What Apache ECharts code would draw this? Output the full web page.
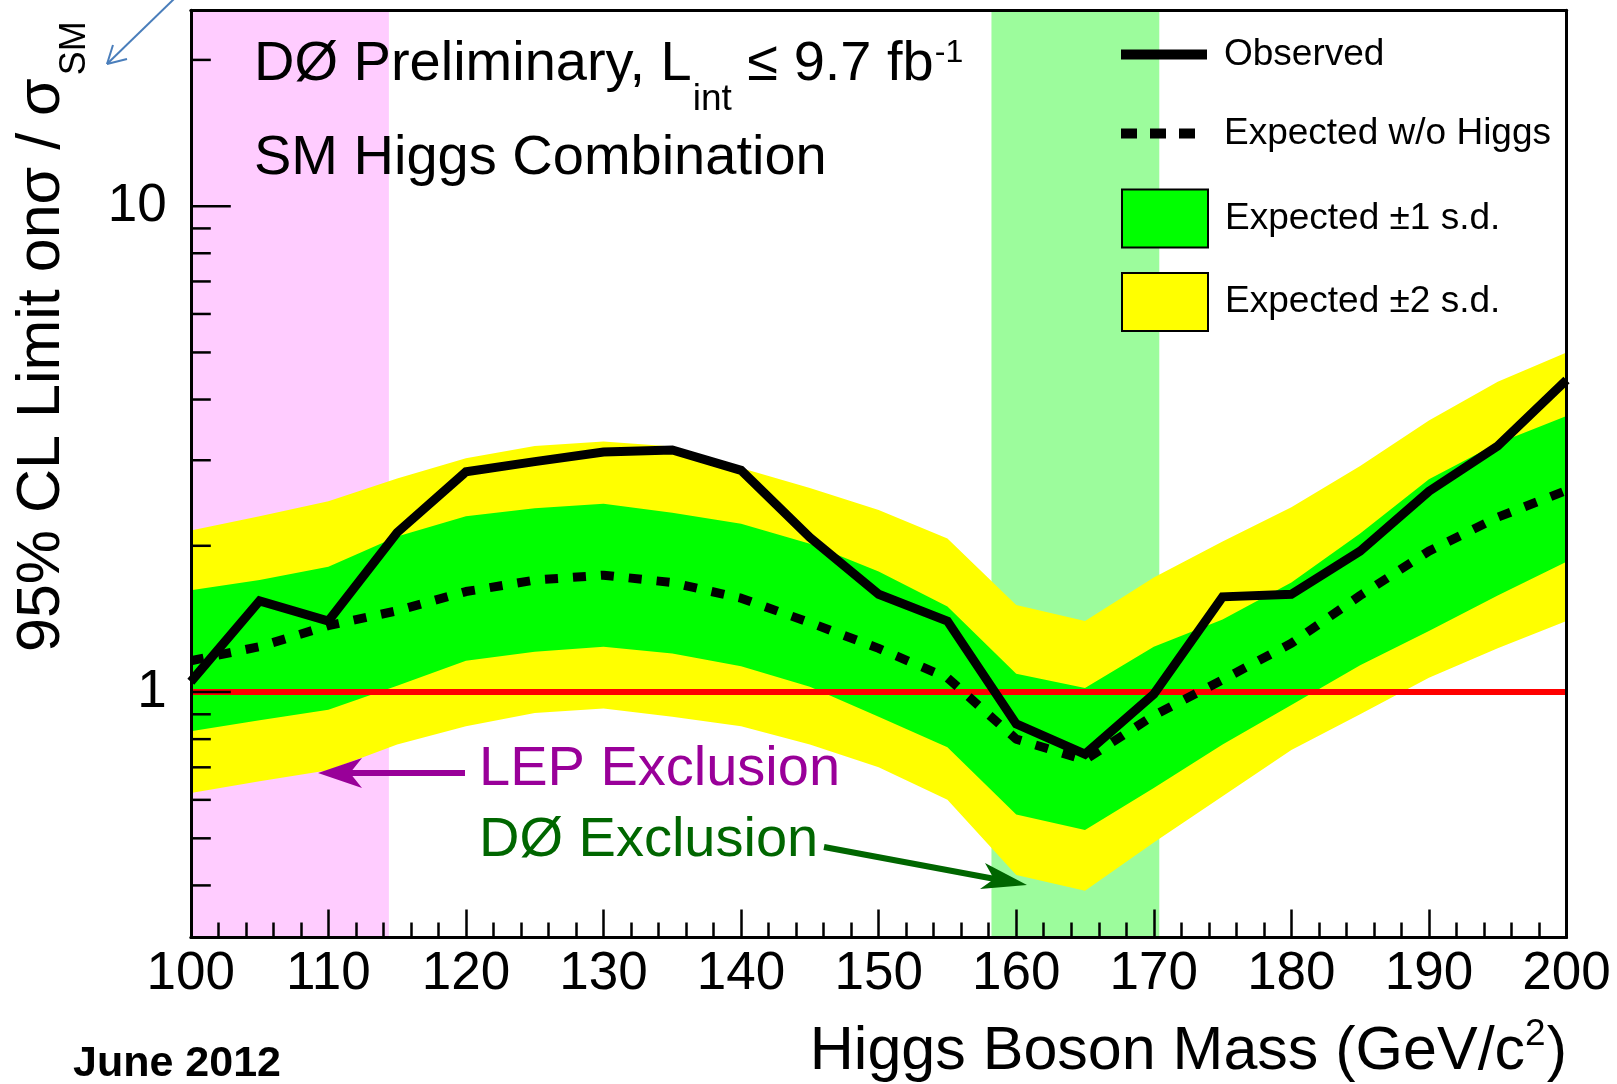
<!DOCTYPE html>
<html><head><meta charset="utf-8">
<script src="https://cdn.jsdelivr.net/npm/echarts@6/dist/echarts.min.js"></script>
<style>html,body{margin:0;padding:0;background:#fff}#c{width:1617px;height:1084px}</style>
</head><body><div id="c"></div>
<script>
// ---------- data ----------
const masses   = [100,105,110,115,120,125,130,135,140,145,150,155,160,165,170,175,180,185,190,195,200];
const observed = [1.05,1.54,1.40,2.13,2.84,2.98,3.12,3.15,2.86,2.08,1.59,1.40,0.86,0.745,0.99,1.57,1.59,1.95,2.59,3.21,4.39];
const expected = [1.16,1.24,1.37,1.47,1.61,1.70,1.74,1.68,1.56,1.39,1.23,1.07,0.80,0.725,0.895,1.06,1.26,1.58,1.95,2.29,2.60];
const plus1    = [1.62,1.70,1.81,2.09,2.30,2.39,2.44,2.34,2.22,2.02,1.77,1.50,1.09,1.02,1.24,1.41,1.68,2.12,2.74,3.25,3.70];
const minus1   = [0.83,0.875,0.92,1.03,1.16,1.21,1.24,1.20,1.13,1.025,0.89,0.77,0.56,0.52,0.635,0.78,0.94,1.135,1.335,1.58,1.855];
const plus2    = [2.15,2.30,2.47,2.75,3.03,3.21,3.28,3.20,2.89,2.63,2.37,2.07,1.51,1.40,1.72,2.04,2.40,2.92,3.62,4.35,5.00];
const minus2   = [0.62,0.655,0.69,0.78,0.85,0.905,0.925,0.89,0.85,0.78,0.70,0.60,0.42,0.39,0.49,0.61,0.76,0.90,1.07,1.23,1.40];
const smLineX  = [100, 200];
const smLineY  = [1, 1];
const lepExclusion = [100, 114.4];
const d0Exclusion  = [158.2, 170.4];
const xRange = [100, 200];
const yRange = [0.3125, 25.3];
const yMajorTicks = [1, 10];
const yMinorTicks = [0.4,0.5,0.6,0.7,0.8,0.9,2,3,4,5,6,7,8,9,20];
const yTickLabels = {1:'1', 10:'10'};
const legendNames = ['Observed', 'Expected w/o Higgs', 'Expected ±1 s.d.', 'Expected ±2 s.d.'];

// ---------- helpers ----------
const FONT = '"Liberation Sans", Arial, Helvetica, sans-serif';
const mctx = document.createElement('canvas').getContext('2d');
function tw(t, size, weight) { mctx.font = (weight || 'normal') + ' ' + size + 'px ' + FONT; return mctx.measureText(t).width; }
function txt(t, x, y, size, opts) {
  opts = opts || {};
  return { type: 'text', x: x, y: y, z: 100, rotation: opts.rotation || 0, silent: true,
    style: { text: t, fontSize: size, fontFamily: FONT, fontWeight: opts.weight || 'normal',
      fill: opts.fill || '#000', align: opts.align || 'left', verticalAlign: 'middle' } };
}
function seg(x1, y1, x2, y2, color, w) {
  return { type: 'line', z: 100, silent: true, shape: { x1, y1, x2, y2 }, style: { stroke: color, lineWidth: w } };
}
function poly(points, color) {
  return { type: 'polygon', z: 100, silent: true, shape: { points }, style: { fill: color } };
}

function bandSeries(name, lo, hi, color, z) {
  return {
    name, type: 'custom', z, silent: true, clip: true,
    itemStyle: { color },
    data: masses.map((m, i) => [m, lo[i], hi[i]]),
    encode: { x: 0, y: [1, 2] },
    renderItem: function (params, api) {
      if (params.dataIndex !== 0) return null;
      const pts = [];
      for (let i = 0; i < masses.length; i++) pts.push(api.coord([masses[i], hi[i]]));
      for (let i = masses.length - 1; i >= 0; i--) pts.push(api.coord([masses[i], lo[i]]));
      return { type: 'polygon', shape: { points: pts }, style: { fill: color } };
    }
  };
}
function regionSeries(range, color) {
  return {
    type: 'custom', z: 1, silent: true,
    data: [[range[0], range[1], yRange[0], yRange[1]]],
    encode: { x: [0, 1], y: [2, 3] },
    renderItem: function (params, api) {
      const a = api.coord([api.value(0), api.value(3)]);
      const b = api.coord([api.value(1), api.value(2)]);
      return { type: 'rect', shape: { x: a[0], y: a[1], width: b[0] - a[0], height: b[1] - a[1] }, style: { fill: color } };
    }
  };
}
function yTickSeries(vals, len) {
  return {
    type: 'custom', z: 20, silent: true,
    data: vals.map(v => [xRange[0], v]),
    encode: { x: 0, y: 1 },
    renderItem: function (params, api) {
      const p = api.coord([api.value(0), api.value(1)]);
      return { type: 'line', shape: { x1: p[0], y1: p[1], x2: p[0] + len, y2: p[1] }, style: { stroke: '#000', lineWidth: 2.5 } };
    }
  };
}

// ---------- text layout ----------
const g = [];
const L1 = 'DØ Preliminary, L', L1x = 254;
g.push(txt(L1, L1x, 65, 56));
const subX = L1x + tw(L1, 56) + 1;
g.push(txt('int', subX, 100, 37));
const L3 = ' ≤ 9.7 fb', L3x = subX + tw('int', 37);
g.push(txt(L3, L3x, 65, 56));
g.push(txt('-1', L3x + tw(L3, 56) + 1, 53, 32));
g.push(txt('SM Higgs Combination', L1x, 159, 56));
g.push(txt('LEP Exclusion', 479, 770, 56, { fill: '#990099' }));
g.push(txt('DØ Exclusion', 479, 841, 56, { fill: '#006600' }));
g.push(seg(465, 773, 348, 773, '#990099', 6));
g.push(poly([[318, 773], [362, 758], [350, 773], [362, 788]], '#990099'));
g.push(seg(824, 847, 995, 879, '#006600', 6));
g.push(poly([[1027, 885], [985, 863], [994, 879], [980, 889]], '#006600'));
const XT = 'Higgs Boson Mass (GeV/c', XS = 61;
const closeX = 1567 - tw(')', XS);
const supX = closeX - tw('2', 37) - 1;
g.push(txt(')', closeX, 1052, XS));
g.push(txt('2', supX, 1035, 37));
g.push(txt(XT, supX - tw(XT, XS), 1052, XS));
const YT = '95% CL Limit onσ / σ', YS = 61, Y0 = 652;
g.push(txt(YT, 42, Y0, YS, { rotation: Math.PI / 2 }));
g.push(txt('SM', 75, Y0 - tw(YT, YS) - 3, 36, { rotation: Math.PI / 2 }));
g.push(txt('June 2012', 73, 1064, 43, { weight: 'bold' }));
g.push(seg(175, -2, 107, 64, '#4a7ebb', 2));
g.push(seg(107, 64, 113, 45, '#4a7ebb', 2));
g.push(seg(107, 64, 127, 59, '#4a7ebb', 2));

// ---------- legend (one block per entry) ----------
const legendTops = [36, 115, 188.5, 272];
const legendItems = [
  { name: legendNames[0], icon: 'path://M0,0H86V10H0Z', itemStyle: { color: '#000', borderWidth: 0 } },
  { name: legendNames[1], icon: 'path://M0,0H16V10H0Z M29,0H45V10H29Z M58,0H74V10H58Z M86,0V10', itemStyle: { color: '#000', borderWidth: 0 } },
  { name: legendNames[2], icon: 'rect', itemStyle: { color: '#00ff00', borderColor: '#000', borderWidth: 2 } },
  { name: legendNames[3], icon: 'rect', itemStyle: { color: '#ffff00', borderColor: '#000', borderWidth: 2 } }
];
const legends = legendItems.map((it, i) => ({
  orient: 'vertical', left: 1121, top: legendTops[i], padding: 0,
  itemWidth: 86, itemHeight: 58, selectedMode: false,
  textStyle: { fontSize: 37, fontFamily: FONT, color: '#000', padding: [0, 0, 0, 12] },
  data: [it]
}));

// ---------- chart ----------
const chart = echarts.init(document.getElementById('c'), null, { renderer: 'canvas' });
const axisLine = { show: true, lineStyle: { color: '#000', width: 3 } };
chart.setOption({
  animation: false,
  backgroundColor: '#fff',
  grid: { left: 190.8, right: 50.5, top: 10.3, bottom: 146.5, containLabel: false },
  xAxis: [{
    type: 'value', min: xRange[0], max: xRange[1], interval: 10, z: 20,
    axisLine, splitLine: { show: false },
    axisTick: { show: true, inside: true, length: 28, lineStyle: { color: '#000', width: 2.5 } },
    minorTick: { show: true, splitNumber: 5, length: 15, lineStyle: { color: '#000', width: 2.5 } },
    axisLabel: { margin: 10, fontSize: 53, fontFamily: FONT, color: '#000' }
  }, {
    type: 'value', position: 'top', min: xRange[0], max: xRange[1], z: 20,
    axisLine, axisTick: { show: false }, axisLabel: { show: false }, splitLine: { show: false }
  }],
  yAxis: [{
    type: 'log', logBase: 10, min: yRange[0], max: yRange[1], z: 20,
    axisLine, splitLine: { show: false }, axisTick: { show: false },
    axisLabel: { margin: 24, fontSize: 53, fontFamily: FONT, color: '#000',
      formatter: v => { for (const k in yTickLabels) if (Math.abs(v - k) < 1e-6) return yTickLabels[k]; return ''; } }
  }, {
    type: 'log', logBase: 10, position: 'right', min: yRange[0], max: yRange[1], z: 20,
    axisLine, axisTick: { show: false }, axisLabel: { show: false }, splitLine: { show: false }
  }],
  legend: legends,
  graphic: { elements: g },
  series: [
    regionSeries(lepExclusion, '#ffccff'),
    regionSeries(d0Exclusion, '#9cfc9c'),
    bandSeries(legendNames[3], minus2, plus2, '#ffff00', 2),
    bandSeries(legendNames[2], minus1, plus1, '#00ff00', 3),
    { type: 'line', z: 4, silent: true, symbol: 'none', data: smLineX.map((x, i) => [x, smLineY[i]]),
      lineStyle: { color: '#ff0000', width: 6 } },
    { name: legendNames[1], type: 'line', z: 5, silent: true, symbol: 'none',
      data: masses.map((m, i) => [m, expected[i]]),
      lineStyle: { color: '#000', width: 9, type: [13, 15], cap: 'butt' }, itemStyle: { color: '#000' } },
    { name: legendNames[0], type: 'line', z: 6, silent: true, symbol: 'none',
      data: masses.map((m, i) => [m, observed[i]]),
      lineStyle: { color: '#000', width: 9, join: 'miter' }, itemStyle: { color: '#000' } },
    yTickSeries(yMinorTicks, 20),
    yTickSeries(yMajorTicks, 40)
  ]
});
</script></body></html>
